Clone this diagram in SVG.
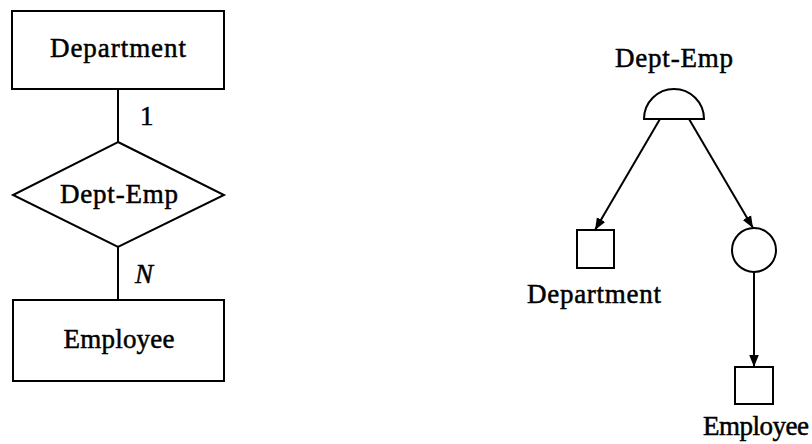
<svg xmlns="http://www.w3.org/2000/svg" width="812" height="444" viewBox="0 0 812 444">
  <style>
    .shape { fill: #fff; stroke: #000; stroke-width: 2; }
    .edge { fill: none; stroke: #000; stroke-width: 2; }
    .lbl { font-family: "Liberation Serif", "DejaVu Serif", serif; font-size: 27px; fill: #000; stroke: #000; stroke-width: 0.5; }
  </style>
  <defs>
    <marker id="arrow" viewBox="0 0 10 10" refX="10" refY="5" markerWidth="6" markerHeight="6" orient="auto" markerUnits="strokeWidth">
      <path d="M0,1 L10,5 L0,9 Z" fill="#000"/>
    </marker>
  </defs>
  <rect width="812" height="444" fill="#fff"/>

  <!-- ER diagram connectors -->
  <g id="er-edges">
    <line class="edge" x1="118" y1="89" x2="118" y2="142"/>
    <line class="edge" x1="118" y1="247" x2="118" y2="300"/>
    <text class="lbl" x="140" y="125">1</text>
    <text class="lbl" x="135" y="283" font-style="italic">N</text>
  </g>

  <g id="er-department">
    <rect class="shape" x="12" y="11" width="212" height="78"/>
    <text class="lbl" x="118" y="57" text-anchor="middle" textLength="136" lengthAdjust="spacing">Department</text>
  </g>

  <g id="er-dept-emp">
    <polygon class="shape" points="118,142 224,195 118,247 13,195"/>
    <text class="lbl" x="119" y="203" text-anchor="middle" textLength="118" lengthAdjust="spacing">Dept-Emp</text>
  </g>

  <g id="er-employee">
    <rect class="shape" x="13" y="300" width="211" height="81"/>
    <text class="lbl" x="119" y="348" text-anchor="middle" textLength="111" lengthAdjust="spacing">Employee</text>
  </g>

  <!-- graph connectors -->
  <g id="graph-edges">
    <line class="edge" x1="660" y1="119" x2="595" y2="230" marker-end="url(#arrow)"/>
    <line class="edge" x1="689" y1="119" x2="753" y2="228" marker-end="url(#arrow)"/>
    <line class="edge" x1="754" y1="272" x2="754" y2="367" marker-end="url(#arrow)"/>
  </g>

  <g id="g-dept-emp">
    <path class="shape" d="M644,119 A30,30 0 0 1 704,119 Z"/>
    <text class="lbl" x="674" y="67" text-anchor="middle" textLength="118" lengthAdjust="spacing">Dept-Emp</text>
  </g>

  <g id="g-department">
    <rect class="shape" x="577" y="230" width="37" height="38"/>
    <text class="lbl" x="594" y="303" text-anchor="middle" textLength="134" lengthAdjust="spacing">Department</text>
  </g>

  <g id="g-link">
    <circle class="shape" cx="754" cy="250" r="22"/>
  </g>

  <g id="g-employee">
    <rect class="shape" x="735" y="367" width="38" height="37"/>
    <text class="lbl" x="756" y="435" text-anchor="middle" textLength="106" lengthAdjust="spacing">Employee</text>
  </g>
</svg>
